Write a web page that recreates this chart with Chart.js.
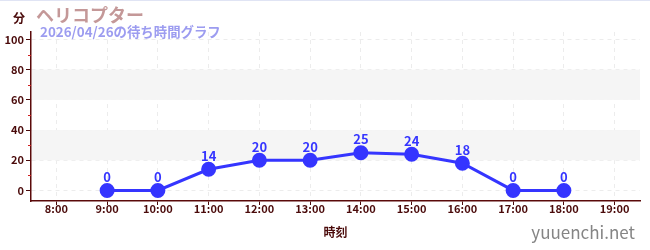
<!DOCTYPE html>
<html><head><meta charset="utf-8">
<script src="https://cdn.jsdelivr.net/npm/chart.js@4"></script>
<style>
html,body{margin:0;padding:0;background:#fff;}
#wrap{position:relative;width:650px;height:250px;border-top:1px solid #e0e4f4;box-sizing:border-box;}
</style></head>
<body>
<div id="wrap"><canvas id="c" width="650" height="249"></canvas></div>
<script>
const categories = ['8:00','9:00','10:00','11:00','12:00','13:00','14:00','15:00','16:00','17:00','18:00','19:00'];
const waitTimes = [null, 0, 0, 14, 20, 20, 25, 24, 18, 0, 0, null];
const yTicks = [0, 20, 40, 60, 80, 100];
const minorTicks = [10, 30, 50, 70, 90];
const bands = [[20, 40], [60, 80]];
const titleText = 'ヘリコプター';
const subtitleText = '2026/04/26の待ち時間グラフ';
const unitText = '分';
const xTitle = '時刻';
const watermark = 'yuuenchi.net';

const FONT = '"Noto Sans CJK JP", "Noto Sans", sans-serif';
const DARK = '#4a0a0a';
const BLUE = '#3535ff';

const deco = {
  id: 'deco',
  beforeDatasetsDraw(chart) {
    const {ctx, chartArea: a, scales: {y}} = chart;
    ctx.save();
    ctx.fillStyle = '#f5f5f5';
    bands.forEach(([lo, hi]) => {
      const t = y.getPixelForValue(hi), b = y.getPixelForValue(lo);
      ctx.fillRect(a.left + 1, t, a.right - a.left - 1, b - t);
    });
    ctx.restore();
  },
  afterDatasetsDraw(chart) {
    const {ctx, chartArea: a, scales: {x, y}} = chart;
    ctx.save();
    ctx.strokeStyle = '#d02020';
    ctx.lineWidth = 1;
    minorTicks.forEach(v => {
      const py = Math.round(y.getPixelForValue(v)) + 0.5;
      ctx.beginPath(); ctx.moveTo(a.left - 3, py); ctx.lineTo(a.left, py); ctx.stroke();
    });
    const meta = chart.getDatasetMeta(0);
    ctx.fillStyle = BLUE;
    ctx.font = 'bold 13px ' + FONT;
    ctx.textAlign = 'center';
    ctx.textBaseline = 'bottom';
    meta.data.forEach((pt, i) => {
      const v = waitTimes[i];
      if (v === null || v === undefined) return;
      ctx.fillText(String(v), pt.x, pt.y - 7);
    });
    ctx.textAlign = 'left';
    ctx.textBaseline = 'middle';
    ctx.fillStyle = DARK;
    ctx.font = 'bold 12px ' + FONT;
    ctx.fillText(unitText, 13, 17);
    ctx.fillStyle = '#c49898';
    ctx.font = 'bold 18px ' + FONT;
    ctx.fillText(titleText, 36, 14);
    ctx.fillStyle = '#9c9cf0';
    ctx.font = 'bold 13.4px ' + FONT;
    ctx.fillText(subtitleText, 40, 31);
    ctx.fillStyle = '#858585';
    ctx.font = '17px ' + FONT;
    ctx.textAlign = 'right';
    ctx.fillText(watermark, 635, 232);
    ctx.restore();
  }
};

new Chart(document.getElementById('c'), {
  type: 'line',
  data: {
    labels: categories,
    datasets: [{
      data: waitTimes,
      borderColor: BLUE,
      backgroundColor: BLUE,
      borderWidth: 3,
      pointRadius: 6,
      pointHoverRadius: 6,
      pointBackgroundColor: BLUE,
      pointBorderColor: BLUE,
      tension: 0,
      spanGaps: false
    }]
  },
  options: {
    responsive: false,
    animation: false,
    events: [],
    layout: {padding: {top: 31, right: 10, left: 0, bottom: 10}},
    plugins: {legend: {display: false}, tooltip: {enabled: false}, title: {display: false}},
    scales: {
      x: {
        type: 'category',
        offset: true,
        afterFit(s) { s.height = 39; },
        grid: {offset: false, color: '#ececec', drawTicks: true, tickLength: 4, tickColor: DARK, tickBorderDash: []},
        border: {display: true, color: '#5a0a0a', width: 1.5, dash: [4, 4]},
        ticks: {color: DARK, font: {family: FONT, size: 11, weight: 'bold'}, padding: -3, maxRotation: 0, autoSkip: false},
        title: {display: true, text: xTitle, color: DARK, font: {family: FONT, size: 12, weight: 'bold'}, padding: {top: 4, bottom: 0}}
      },
      y: {
        min: -7,
        max: 105,
        afterFit(s) { s.width = 31; },
        afterBuildTicks(s) { s.ticks = yTicks.map(v => ({value: v})); },
        grid: {color: '#ececec', drawTicks: true, tickLength: 5, tickColor: DARK, tickBorderDash: []},
        border: {display: true, color: '#5a0a0a', width: 1.5, dash: [4, 4]},
        ticks: {color: DARK, font: {family: FONT, size: 11, weight: 'bold'}, padding: 2}
      }
    }
  },
  plugins: [deco]
});
</script>
</body></html>
